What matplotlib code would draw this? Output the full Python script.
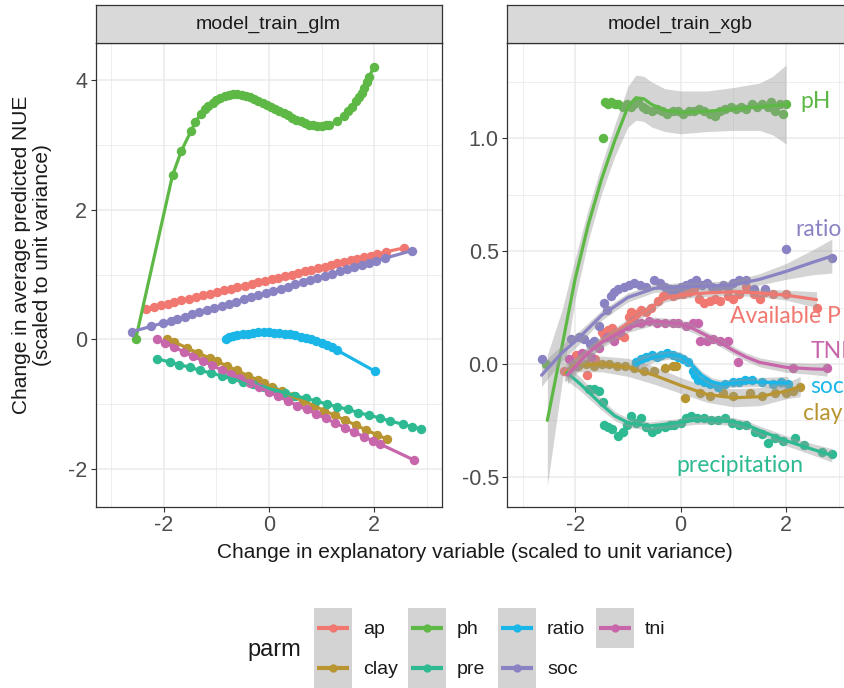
import numpy as np
import matplotlib.pyplot as plt
from matplotlib.patches import Rectangle

plt.rcParams['font.family'] = ['Liberation Sans', 'DejaVu Sans']
plt.rcParams['axes.unicode_minus'] = False

parms = ['ap', 'clay', 'ph', 'pre', 'ratio', 'soc', 'tni']
colors = {'ap': '#F07870', 'clay': '#B89530', 'ph': '#5DB845', 'pre': '#2DBA93',
          'ratio': '#1AB6E8', 'soc': '#8A83C3', 'tni': '#C866AB'}

# ---- model_train_glm: partial effects (points, the glm curve runs through them)
glm_ap_x = [-2.34, -2.18, -2.05, -1.92, -1.80, -1.66, -1.52, -1.38, -1.25, -1.12, -0.98, -0.85, -0.72,
            -0.60, -0.46, -0.33, -0.20, -0.08, 0.05, 0.18, 0.30, 0.43, 0.56, 0.68, 0.80, 0.93, 1.06,
            1.18, 1.30, 1.43, 1.56, 1.68, 1.80, 1.93, 2.05, 2.22, 2.56]
glm_ap_y = [0.47, 0.50, 0.53, 0.55, 0.57, 0.60, 0.63, 0.65, 0.68, 0.70, 0.73, 0.76, 0.78,
            0.80, 0.83, 0.86, 0.88, 0.90, 0.93, 0.95, 0.98, 1.00, 1.03, 1.05, 1.07, 1.10, 1.12,
            1.15, 1.17, 1.19, 1.22, 1.24, 1.27, 1.29, 1.31, 1.35, 1.41]
glm_clay_x = [-1.93, -1.80, -1.56, -1.35, -1.12, -0.98, -0.80, -0.60, -0.40, -0.20, -0.10, 0.05, 0.25,
              0.45, 0.65, 0.85, 1.05, 1.25, 1.45, 1.65, 1.85, 2.05, 2.24]
glm_clay_y = [0.01, -0.04, -0.13, -0.21, -0.29, -0.34, -0.41, -0.48, -0.56, -0.63, -0.67, -0.73, -0.80,
              -0.88, -0.95, -1.02, -1.10, -1.17, -1.25, -1.32, -1.40, -1.47, -1.54]
glm_ph_x = [-2.53, -1.83, -1.66, -1.48, -1.40, -1.29, -1.22, -1.15, -1.07, -1.00, -0.92, -0.84, -0.76,
            -0.68, -0.60, -0.52, -0.44, -0.36, -0.28, -0.20, -0.12, -0.04, 0.04, 0.12, 0.20, 0.28,
            0.36, 0.44, 0.52, 0.60, 0.68, 0.76, 0.84, 0.92, 1.00, 1.08, 1.14, 1.30, 1.42, 1.50,
            1.58, 1.66, 1.71, 1.76, 1.80, 1.86, 1.90, 1.99]
glm_ph_y = [0.00, 2.53, 2.91, 3.21, 3.35, 3.48, 3.55, 3.60, 3.65, 3.69, 3.72, 3.75, 3.77,
            3.78, 3.78, 3.77, 3.76, 3.73, 3.71, 3.68, 3.65, 3.62, 3.58, 3.55, 3.52, 3.49,
            3.46, 3.42, 3.39, 3.36, 3.34, 3.31, 3.30, 3.29, 3.29, 3.30, 3.31, 3.36, 3.45, 3.52,
            3.58, 3.67, 3.73, 3.80, 3.88, 3.97, 4.04, 4.20]
glm_pre_x = [-2.12, -1.88, -1.70, -1.50, -1.30, -1.10, -0.90, -0.70, -0.50, -0.30, -0.10, 0.10, 0.30,
             0.50, 0.70, 0.90, 1.10, 1.30, 1.50, 1.70, 1.90, 2.10, 2.30, 2.55, 2.72, 2.88]
glm_pre_y = [-0.30, -0.35, -0.39, -0.43, -0.48, -0.52, -0.56, -0.61, -0.65, -0.69, -0.74, -0.78, -0.82,
             -0.87, -0.91, -0.95, -1.00, -1.04, -1.08, -1.13, -1.17, -1.21, -1.26, -1.31, -1.35, -1.38]
glm_ratio_x = [-0.82, -0.76, -0.68, -0.60, -0.50, -0.40, -0.30, -0.20, -0.10, 0.00, 0.10, 0.20, 0.30,
               0.40, 0.50, 0.60, 0.70, 0.80, 0.90, 1.00, 1.10, 1.20, 1.30, 2.01]
glm_ratio_y = [0.00, 0.03, 0.05, 0.06, 0.08, 0.09, 0.10, 0.11, 0.11, 0.11, 0.10, 0.10, 0.09,
               0.08, 0.06, 0.04, 0.02, 0.00, -0.03, -0.06, -0.09, -0.12, -0.17, -0.49]
glm_soc_x = [-2.59, -2.24, -2.02, -1.86, -1.74, -1.60, -1.46, -1.32, -1.18, -1.04, -0.90, -0.76, -0.62,
             -0.48, -0.34, -0.20, -0.06, 0.08, 0.22, 0.36, 0.50, 0.64, 0.78, 0.92, 1.06, 1.20,
             1.34, 1.48, 1.62, 1.76, 1.90, 2.04, 2.20, 2.72]
glm_soc_y = [0.12, 0.20, 0.25, 0.29, 0.32, 0.35, 0.39, 0.42, 0.45, 0.49, 0.52, 0.55, 0.58,
             0.62, 0.65, 0.68, 0.72, 0.75, 0.78, 0.81, 0.85, 0.88, 0.91, 0.95, 0.98, 1.01,
             1.05, 1.08, 1.11, 1.14, 1.18, 1.21, 1.25, 1.37]
glm_tni_x = [-2.12, -1.98, -1.80, -1.62, -1.44, -1.26, -1.08, -0.90, -0.72, -0.54, -0.36, -0.18, 0.00,
             0.18, 0.36, 0.54, 0.72, 0.90, 1.08, 1.26, 1.44, 1.62, 1.80, 1.98, 2.10, 2.75]
glm_tni_y = [0.00, -0.05, -0.12, -0.19, -0.26, -0.33, -0.40, -0.47, -0.53, -0.60, -0.67, -0.74, -0.81,
             -0.88, -0.95, -1.02, -1.08, -1.15, -1.22, -1.29, -1.36, -1.43, -1.50, -1.57, -1.61, -1.86]

# ---- model_train_xgb: partial effects (points)
xgb_ap_x = [-2.21, -1.99, -1.77, -1.62, -1.50, -1.45, -1.38, -1.30, -1.19, -1.07, -0.98, -0.94, -0.85,
            -0.75, -0.65, -0.56, -0.43, -0.34, -0.25, -0.15, -0.05, 0.05, 0.15, 0.25, 0.35, 0.45,
            0.55, 0.65, 0.75, 0.90, 1.00, 1.10, 1.25, 1.40, 1.50, 1.60, 1.75, 2.00, 2.58]
xgb_ap_y = [-0.03, 0.04, -0.05, 0.02, 0.14, 0.13, 0.15, 0.16, 0.13, 0.12, 0.21, 0.23, 0.22,
            0.24, 0.23, 0.25, 0.28, 0.30, 0.31, 0.30, 0.31, 0.31, 0.32, 0.33, 0.29, 0.27,
            0.28, 0.29, 0.28, 0.30, 0.29, 0.31, 0.34, 0.31, 0.29, 0.32, 0.31, 0.31, 0.25]
xgb_clay_x = [-2.05, -1.95, -1.80, -1.65, -1.50, -1.35, -1.20, -1.05, -0.88, -0.70, -0.50, -0.30, -0.15,
              -0.08, 0.08, 0.36, 0.55, 0.80, 1.00, 1.31, 1.55, 1.80, 2.00, 2.14, 2.27]
xgb_clay_y = [0.00, -0.01, 0.00, -0.01, 0.00, 0.00, -0.01, -0.01, -0.02, -0.03, -0.03, -0.02, -0.01,
              -0.01, -0.15, -0.13, -0.14, -0.13, -0.14, -0.13, -0.14, -0.13, -0.13, -0.12, -0.10]
xgb_ph_x = [-2.56, -1.48, -1.44, -1.38, -1.32, -1.25, -1.18, -1.10, -1.02, -0.95, -0.88, -0.80, -0.72,
            -0.65, -0.55, -0.45, -0.35, -0.25, -0.15, -0.05, 0.05, 0.15, 0.25, 0.35, 0.45, 0.55,
            0.65, 0.75, 0.85, 0.95, 1.05, 1.15, 1.25, 1.35, 1.45, 1.55, 1.65, 1.72, 1.80, 1.88,
            1.95, 2.00]
xgb_ph_y = [0.00, 1.00, 1.16, 1.15, 1.16, 1.15, 1.15, 1.14, 1.15, 1.14, 1.15, 1.16, 1.14,
            1.13, 1.12, 1.13, 1.12, 1.11, 1.12, 1.12, 1.11, 1.12, 1.12, 1.13, 1.12, 1.11,
            1.10, 1.12, 1.13, 1.14, 1.13, 1.14, 1.13, 1.15, 1.14, 1.15, 1.14, 1.16, 1.12, 1.15,
            1.11, 1.15]
xgb_pre_x = [-1.73, -1.64, -1.55, -1.48, -1.45, -1.38, -1.30, -1.19, -1.10, -1.02, -0.94, -0.85, -0.75,
             -0.65, -0.55, -0.45, -0.30, -0.20, -0.12, 0.00, 0.10, 0.20, 0.32, 0.45, 0.58, 0.71,
             0.85, 0.97, 1.10, 1.25, 1.41, 1.55, 1.66, 1.80, 1.95, 2.17, 2.35, 2.68, 2.87]
xgb_pre_y = [-0.11, -0.11, -0.12, -0.17, -0.27, -0.28, -0.29, -0.32, -0.30, -0.27, -0.23, -0.26, -0.24,
             -0.28, -0.30, -0.29, -0.28, -0.27, -0.27, -0.26, -0.24, -0.23, -0.24, -0.24, -0.25, -0.25,
             -0.24, -0.26, -0.27, -0.27, -0.30, -0.31, -0.35, -0.33, -0.34, -0.33, -0.36, -0.39, -0.40]
xgb_ratio_x = [-0.84, -0.75, -0.65, -0.55, -0.45, -0.37, -0.25, -0.15, -0.05, 0.05, 0.14, 0.23, 0.28,
               0.33, 0.45, 0.55, 0.71, 0.85, 1.00, 1.10, 1.22, 1.35, 1.55, 1.75, 1.90, 2.04]
xgb_ratio_y = [0.01, 0.02, 0.03, 0.04, 0.03, 0.04, 0.05, 0.04, 0.03, 0.02, 0.01, -0.03, -0.05,
               -0.07, -0.08, -0.09, -0.10, -0.09, -0.08, -0.08, -0.07, -0.07, -0.08, -0.09, -0.08, -0.09]
xgb_soc_x = [-2.64, -2.08, -1.92, -1.83, -1.72, -1.64, -1.54, -1.45, -1.40, -1.33, -1.26, -1.18, -1.07,
             -0.98, -0.88, -0.78, -0.65, -0.50, -0.40, -0.30, -0.20, -0.10, 0.00, 0.10, 0.20, 0.30,
             0.40, 0.50, 0.60, 0.70, 0.80, 0.90, 1.00, 1.10, 1.25, 1.40, 1.60, 2.00, 2.87]
xgb_soc_y = [0.02, 0.11, 0.12, 0.11, 0.09, 0.10, 0.17, 0.27, 0.24, 0.30, 0.32, 0.33, 0.34,
             0.35, 0.36, 0.35, 0.34, 0.37, 0.36, 0.34, 0.33, 0.33, 0.34, 0.35, 0.36, 0.37,
             0.35, 0.36, 0.34, 0.33, 0.35, 0.34, 0.36, 0.37, 0.37, 0.33, 0.33, 0.51, 0.47]
xgb_tni_x = [-2.11, -2.00, -1.88, -1.70, -1.55, -1.40, -1.26, -1.15, -1.00, -0.88, -0.75, -0.60, -0.45,
             -0.30, -0.15, -0.05, 0.10, 0.23, 0.33, 0.36, 0.50, 0.62, 0.75, 0.90, 1.09, 2.14, 2.78]
xgb_tni_y = [0.02, -0.01, 0.05, 0.03, 0.07, 0.12, 0.10, 0.14, 0.17, 0.19, 0.18, 0.19, 0.18,
             0.18, 0.18, 0.18, 0.17, 0.18, 0.18, 0.10, 0.10, 0.11, 0.10, 0.10, 0.01, -0.02, -0.02]

# ---- model_train_xgb: loess smooth (fit and standard-error half width)
fit_ap_x = [-2.21, -2.0, -1.5, -1.0, -0.5, -0.3, 0.0, 0.5, 1.0, 1.5, 2.0, 2.58]
fit_ap_y = [-0.04, 0.0, 0.10, 0.18, 0.26, 0.29, 0.305, 0.315, 0.32, 0.315, 0.305, 0.285]
fit_ap_se = [0.04, 0.03, 0.022, 0.02, 0.018, 0.016, 0.016, 0.016, 0.016, 0.018, 0.022, 0.035]
fit_clay_x = [-2.18, -2.0, -1.5, -1.0, -0.5, 0.0, 0.5, 1.0, 1.5, 2.0, 2.27]
fit_clay_y = [-0.04, -0.005, 0.0, -0.015, -0.05, -0.095, -0.135, -0.15, -0.145, -0.12, -0.10]
fit_clay_se = [0.04, 0.03, 0.035, 0.04, 0.04, 0.035, 0.035, 0.04, 0.04, 0.035, 0.045]
fit_ph_x = [-2.53, -2.25, -2.0, -1.75, -1.5, -1.25, -1.0, -0.85, -0.7, -0.55, -0.3, 0.0, 0.5, 1.0,
            1.5, 1.75, 2.0]
fit_ph_y = [-0.25, 0.08, 0.38, 0.62, 0.82, 0.99, 1.14, 1.18, 1.175, 1.15, 1.125, 1.115, 1.12, 1.13,
            1.14, 1.145, 1.15]
fit_ph_se = [0.29, 0.16, 0.09, 0.07, 0.065, 0.07, 0.09, 0.10, 0.10, 0.10, 0.095, 0.095, 0.09, 0.095,
             0.105, 0.13, 0.175]
fit_pre_x = [-2.15, -1.9, -1.5, -1.25, -1.0, -0.6, -0.2, 0.25, 0.6, 1.0, 1.25, 1.5, 2.0, 2.5, 2.87]
fit_pre_y = [-0.04, -0.09, -0.18, -0.23, -0.26, -0.275, -0.265, -0.25, -0.248, -0.255, -0.27, -0.295,
             -0.34, -0.378, -0.405]
fit_pre_se = [0.035, 0.03, 0.025, 0.02, 0.02, 0.018, 0.018, 0.018, 0.018, 0.018, 0.018, 0.02, 0.022,
              0.025, 0.03]
fit_ratio_x = [-0.84, -0.5, -0.2, 0.0, 0.2, 0.4, 0.6, 0.8, 1.0, 1.5, 2.04]
fit_ratio_y = [0.0, 0.03, 0.04, 0.035, 0.0, -0.05, -0.08, -0.09, -0.085, -0.08, -0.085]
fit_ratio_se = [0.03, 0.02, 0.018, 0.018, 0.018, 0.018, 0.018, 0.018, 0.018, 0.02, 0.03]
fit_soc_x = [-2.64, -2.25, -2.0, -1.5, -1.0, -0.5, 0.0, 0.5, 1.0, 1.5, 2.0, 2.5, 2.87]
fit_soc_y = [-0.05, 0.05, 0.10, 0.215, 0.295, 0.335, 0.342, 0.345, 0.35, 0.375, 0.41, 0.45, 0.478]
fit_soc_se = [0.05, 0.035, 0.03, 0.022, 0.02, 0.018, 0.018, 0.018, 0.02, 0.025, 0.035, 0.055, 0.075]
fit_tni_x = [-2.15, -1.75, -1.5, -1.0, -0.5, 0.0, 0.25, 0.5, 0.75, 1.0, 1.25, 1.5, 2.0, 2.5, 2.78]
fit_tni_y = [-0.05, 0.05, 0.095, 0.16, 0.19, 0.178, 0.155, 0.125, 0.095, 0.06, 0.03, 0.007, -0.015,
             -0.022, -0.024]
fit_tni_se = [0.04, 0.03, 0.025, 0.02, 0.018, 0.018, 0.018, 0.018, 0.018, 0.018, 0.018, 0.02, 0.022,
              0.025, 0.03]

# direct labels on the xgb panel: (text, parm, x, y)
xgb_labels = [('pH', 'ph', 2.27, 1.163), ('ratio', 'soc', 2.17, 0.594),
              ('Available P', 'ap', 0.93, 0.21), ('TNI', 'tni', 2.46, 0.055),
              ('soc', 'ratio', 2.46, -0.10), ('clay', 'clay', 2.33, -0.22),
              ('precipitation', 'pre', -0.08, -0.452)]

glm = {'ap': (glm_ap_x, glm_ap_y), 'clay': (glm_clay_x, glm_clay_y), 'ph': (glm_ph_x, glm_ph_y),
       'pre': (glm_pre_x, glm_pre_y), 'ratio': (glm_ratio_x, glm_ratio_y),
       'soc': (glm_soc_x, glm_soc_y), 'tni': (glm_tni_x, glm_tni_y)}
xgb = {'ap': (xgb_ap_x, xgb_ap_y), 'clay': (xgb_clay_x, xgb_clay_y), 'ph': (xgb_ph_x, xgb_ph_y),
       'pre': (xgb_pre_x, xgb_pre_y), 'ratio': (xgb_ratio_x, xgb_ratio_y),
       'soc': (xgb_soc_x, xgb_soc_y), 'tni': (xgb_tni_x, xgb_tni_y)}
xgb_fit = {'ap': (fit_ap_x, fit_ap_y, fit_ap_se), 'clay': (fit_clay_x, fit_clay_y, fit_clay_se),
           'ph': (fit_ph_x, fit_ph_y, fit_ph_se), 'pre': (fit_pre_x, fit_pre_y, fit_pre_se),
           'ratio': (fit_ratio_x, fit_ratio_y, fit_ratio_se),
           'soc': (fit_soc_x, fit_soc_y, fit_soc_se), 'tni': (fit_tni_x, fit_tni_y, fit_tni_se)}

W, H = 845, 688


def px_rect(x0, y0, x1, y1):
    return [x0 / W, 1 - y1 / H, (x1 - x0) / W, (y1 - y0) / H]


def style_panel(ax, ylim, yticks, yminor, ylabels):
    ax.set_xlim(-3.29, 3.28)
    ax.set_ylim(*ylim)
    ax.set_xticks([-2, 0, 2])
    ax.set_xticklabels(['-2', '0', '2'])
    ax.set_xticks([-3, -1, 1, 3], minor=True)
    ax.set_yticks(yticks)
    ax.set_yticklabels(ylabels)
    ax.set_yticks(yminor, minor=True)
    ax.grid(True, which='major', color='#EBEBEB', lw=1.1, zorder=0)
    ax.grid(True, which='minor', color='#EBEBEB', lw=0.6, zorder=0)
    ax.set_axisbelow(True)
    ax.tick_params(which='major', length=3.6, width=0.8, color='#333333',
                   labelsize=15.5, labelcolor='#4D4D4D', pad=2.5)
    ax.tick_params(which='minor', length=0)
    for s in ax.spines.values():
        s.set_color('#333333')
        s.set_linewidth(0.9)


def add_strip(rect, label):
    sax = fig.add_axes(rect)
    sax.set_facecolor('#D9D9D9')
    sax.set_xticks([])
    sax.set_yticks([])
    for s in sax.spines.values():
        s.set_color('#333333')
        s.set_linewidth(0.9)
    sax.text(0.5, 0.5, label, ha='center', va='center', fontsize=14, color='#1A1A1A',
             transform=sax.transAxes)


fig = plt.figure(figsize=(W / 100, H / 100), dpi=100)

ax1 = fig.add_axes(px_rect(95.6, 43, 441.7, 507))
ax2 = fig.add_axes(px_rect(507.3, 43, 853.4, 507))
add_strip(px_rect(95.6, 5, 441.7, 43), 'model_train_glm')
add_strip(px_rect(507.3, 5, 853.4, 43), 'model_train_xgb')

style_panel(ax1, (-2.585, 4.57), [-2, 0, 2, 4], [-1, 1, 3], ['-2', '0', '2', '4'])
style_panel(ax2, (-0.634, 1.4225), [-0.5, 0, 0.5, 1.0], [-0.25, 0.25, 0.75, 1.25],
            ['-0.5', '0.0', '0.5', '1.0'])

# glm panel
for p in parms:
    x, y = glm[p]
    ax1.scatter(x, y, s=46, color=colors[p], lw=0, zorder=3)
for p in parms:
    x, y = glm[p]
    ax1.plot(x, y, color=colors[p], lw=2.3, zorder=4, solid_capstyle='round')

# xgb panel
for p in parms:
    x, y = xgb[p]
    ax2.scatter(x, y, s=46, color=colors[p], lw=0, zorder=3)
for p in parms:
    fx, fy, se = (np.array(v) for v in xgb_fit[p])
    ax2.fill_between(fx, fy - se, fy + se, color='#999999', alpha=0.42, lw=0, zorder=4)
    ax2.plot(fx, fy, color=colors[p], lw=2.3, zorder=4, solid_capstyle='round')

for text, p, x, y in xgb_labels:
    ax2.text(x, y, text, color=colors[p], fontsize=16.5, family=['Lato', 'DejaVu Sans'],
             ha='left', va='center', zorder=6, clip_on=False)

fig.text(474.5 / W, 1 - 553 / H, 'Change in explanatory variable (scaled to unit variance)',
         ha='center', va='center', fontsize=15, color='#1A1A1A')
fig.text(32 / W, 1 - 255 / H, 'Change in average predicted NUE\n(scaled to unit variance)',
         ha='center', va='center', rotation=90, fontsize=15, color='#1A1A1A',
         multialignment='center', linespacing=1.1)

# legend
lax = fig.add_axes([0, 0, 1, 1], zorder=-1)
lax.set_xlim(0, W)
lax.set_ylim(H, 0)
lax.axis('off')
lax.text(247, 650, 'parm', ha='left', va='center', fontsize=17, color='#1A1A1A')
key_cols = [314, 408, 498, 596]
for i, p in enumerate(parms):
    col, row = divmod(i, 2)
    kx = key_cols[col]
    ky = 608 + row * 40
    lax.add_patch(Rectangle((kx, ky), 38, 40, facecolor='#D3D3D3', edgecolor='none'))
    lax.plot([kx + 3, kx + 35], [ky + 20, ky + 20], color=colors[p], lw=3, solid_capstyle='butt')
    lax.plot([kx + 19], [ky + 20], 'o', color=colors[p], ms=6, mew=0)
    lax.text(kx + 49, ky + 22, p, ha='left', va='center', fontsize=14, color='#1A1A1A')

fig.savefig('out.png', dpi=100)
